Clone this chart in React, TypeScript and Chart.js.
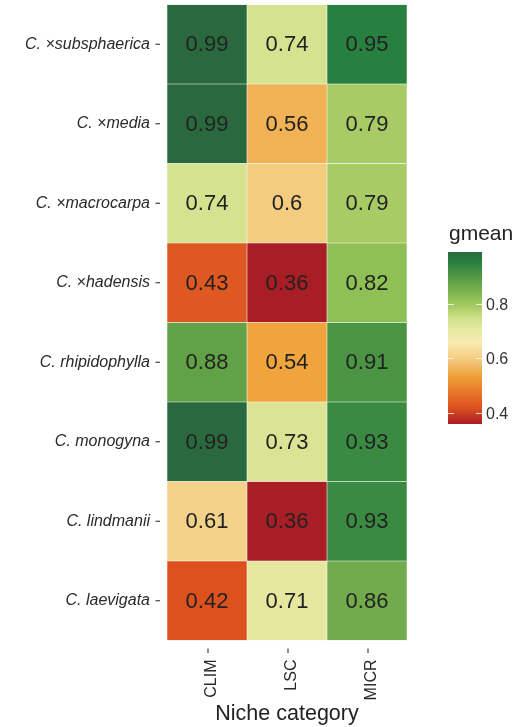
import React, { useEffect, useRef } from "react";
import { Chart, registerables } from "chart.js";

Chart.register(...registerables);

const SPECIES = [
  "C. ×subsphaerica",
  "C. ×media",
  "C. ×macrocarpa",
  "C. ×hadensis",
  "C. rhipidophylla",
  "C. monogyna",
  "C. lindmanii",
  "C. laevigata",
];
const CATEGORIES = ["CLIM", "LSC", "MICR"];
const CLIM = [0.99, 0.99, 0.74, 0.43, 0.88, 0.99, 0.61, 0.42];
const LSC = [0.74, 0.56, 0.6, 0.36, 0.54, 0.73, 0.36, 0.71];
const MICR = [0.95, 0.79, 0.79, 0.82, 0.91, 0.93, 0.93, 0.86];
const SERIES = [CLIM, LSC, MICR];
const LEGEND_TICKS = [0.4, 0.6, 0.8];
const LEGEND_TITLE = "gmean";
const X_TITLE = "Niche category";

// colour scale stops (value, colour)
const STOPS: [number, string][] = [
  [0.36, "#A81E24"],
  [0.42, "#DD511F"],
  [0.48, "#E87A28"],
  [0.54, "#F0A43B"],
  [0.57, "#F1B862"],
  [0.61, "#F5D28A"],
  [0.66, "#F8EBB2"],
  [0.71, "#E5E89E"],
  [0.745, "#D2E18C"],
  [0.79, "#A9CB65"],
  [0.82, "#8FC055"],
  [0.86, "#72AB4C"],
  [0.88, "#62A247"],
  [0.91, "#4A9443"],
  [0.93, "#3A8B41"],
  [0.95, "#27803F"],
  [0.99, "#2A693D"],
];
const VMIN = 0.36;
const VMAX = 0.99;

function hexToRgb(h: string) {
  const n = parseInt(h.slice(1), 16);
  return [(n >> 16) & 255, (n >> 8) & 255, n & 255];
}
function colorFor(v: number) {
  if (v <= STOPS[0][0]) return STOPS[0][1];
  for (let i = 1; i < STOPS.length; i++) {
    if (v <= STOPS[i][0]) {
      const [v0, c0] = STOPS[i - 1];
      const [v1, c1] = STOPS[i];
      const t = (v - v0) / (v1 - v0);
      const a = hexToRgb(c0);
      const b = hexToRgb(c1);
      const r = a.map((x, k) => Math.round(x + (b[k] - x) * t));
      return `rgb(${r[0]},${r[1]},${r[2]})`;
    }
  }
  return STOPS[STOPS.length - 1][1];
}

const FONT = "'Liberation Sans', Arial, sans-serif";
const TEXT = "#2a2a2a";

const overlay = {
  id: "heatOverlay",
  afterDatasetsDraw(chart: any) {
    const ctx = chart.ctx;
    ctx.save();
    ctx.font = `22px ${FONT}`;
    ctx.fillStyle = "#222";
    ctx.textAlign = "center";
    ctx.textBaseline = "middle";
    SERIES.forEach((vals, di) => {
      const meta = chart.getDatasetMeta(di);
      meta.data.forEach((el: any, i: number) => {
        const p = el.getCenterPoint();
        ctx.fillText(String(vals[i]), p.x, p.y + 1);
      });
    });
    ctx.restore();
  },
  afterDraw(chart: any) {
    const ctx = chart.ctx;
    const area = chart.chartArea;
    const ys = chart.scales.y;
    const xs = chart.scales.x;
    ctx.save();
    ctx.strokeStyle = "#333";
    ctx.lineWidth = 1.1;
    ys.ticks.forEach((_t: any, i: number) => {
      const y = ys.getPixelForTick(i);
      ctx.beginPath();
      ctx.moveTo(area.left - 11.5, y);
      ctx.lineTo(area.left - 7, y);
      ctx.stroke();
    });
    xs.ticks.forEach((t: any) => {
      const x = xs.getPixelForValue(t.value) + 1;
      ctx.beginPath();
      ctx.moveTo(x, area.bottom + 8);
      ctx.lineTo(x, area.bottom + 12.5);
      ctx.stroke();
    });

    // colour bar legend
    const bx = 448;
    const bw = 34;
    const top = 252;
    const bottom = 424;
    const toY = (v: number) => bottom - ((v - VMIN) / (VMAX - VMIN)) * (bottom - top);
    const grad = ctx.createLinearGradient(0, bottom, 0, top);
    STOPS.forEach(([v, c]) => {
      grad.addColorStop((v - VMIN) / (VMAX - VMIN), c);
    });
    ctx.fillStyle = grad;
    ctx.fillRect(bx, top, bw, bottom - top);
    ctx.strokeStyle = "rgba(255,255,255,0.75)";
    ctx.lineWidth = 1;
    ctx.font = `16px ${FONT}`;
    ctx.fillStyle = "#333";
    ctx.textAlign = "left";
    ctx.textBaseline = "middle";
    LEGEND_TICKS.forEach((v) => {
      const y = Math.round(toY(v)) + 0.5;
      ctx.beginPath();
      ctx.moveTo(bx, y);
      ctx.lineTo(bx + 6, y);
      ctx.moveTo(bx + bw - 6, y);
      ctx.lineTo(bx + bw, y);
      ctx.stroke();
      ctx.fillText(v.toFixed(1), bx + bw + 4, y + 1);
    });
    ctx.font = `21px ${FONT}`;
    ctx.fillStyle = "#222";
    ctx.textBaseline = "alphabetic";
    ctx.fillText(LEGEND_TITLE, bx + 1, 240);
    ctx.restore();
  },
};

export default function App() {
  const ref = useRef<HTMLCanvasElement | null>(null);
  useEffect(() => {
    if (!ref.current) return;
    const datasets = SERIES.map((vals, ci) => ({
      label: CATEGORIES[ci],
      data: vals.map(() => [ci, ci + 1]),
      backgroundColor: vals.map(colorFor),
      borderColor: "rgba(255,255,255,0.18)",
      borderWidth: 0.6,
      borderSkipped: false,
      grouped: false,
      barPercentage: 1,
      categoryPercentage: 1,
    }));
    const chart = new Chart(ref.current, {
      type: "bar",
      data: { labels: SPECIES, datasets: datasets as any },
      options: {
        animation: false,
        responsive: false,
        indexAxis: "y",
        layout: { padding: { top: 4.5, right: 108, bottom: 0, left: 0 } },
        plugins: { legend: { display: false }, tooltip: { enabled: false } },
        scales: {
          x: {
            type: "linear",
            min: 0,
            max: 3,
            grid: { display: false, drawTicks: false },
            border: { display: false },
            afterBuildTicks: (s: any) => {
              s.ticks = CATEGORIES.map((_c, i) => ({ value: i + 0.5 }));
            },
            afterFit: (s: any) => {
              s.height = 86.5;
              s.paddingLeft = 0;
              s.paddingRight = 0;
            },
            ticks: {
              autoSkip: false,
              minRotation: 90,
              maxRotation: 90,
              padding: 19,
              labelOffset: 5,
              color: TEXT,
              font: { family: FONT, size: 16 },
              callback: (v: any) => CATEGORIES[Math.floor(Number(v))] ?? "",
            },
            title: {
              display: true,
              text: X_TITLE,
              color: "#222",
              font: { family: FONT, size: 21.5 },
              padding: { top: 0, bottom: 0 },
            },
          },
          y: {
            type: "category",
            offset: true,
            grid: { display: false, drawTicks: false },
            border: { display: false },
            afterFit: (s: any) => {
              s.width = 167;
              s.paddingTop = 0;
              s.paddingBottom = 0;
            },
            ticks: {
              autoSkip: false,
              padding: 17,
              color: TEXT,
              font: { family: FONT, size: 16, style: "italic" },
            },
          },
        },
      },
      plugins: [overlay],
    });
    return () => chart.destroy();
  }, []);
  return (
    <div style={{ position: "absolute", left: 0, top: 0, width: 515, height: 727, background: "#fff" }}>
      <canvas ref={ref} width={515} height={727} style={{ display: "block", width: 515, height: 727 }} />
    </div>
  );
}
